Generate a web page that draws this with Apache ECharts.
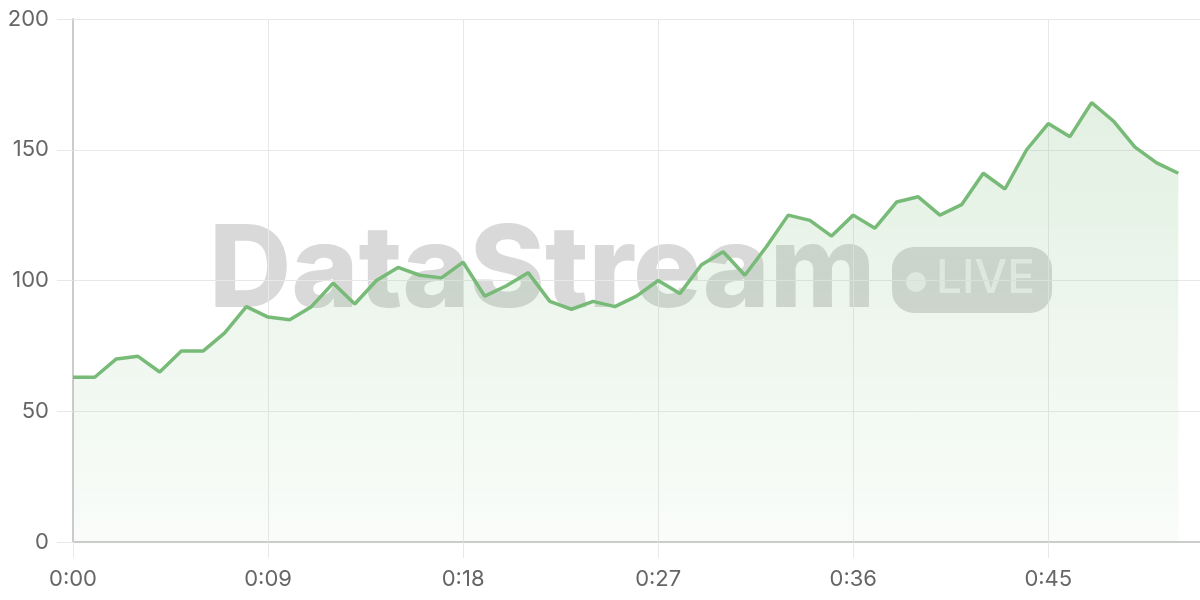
<!DOCTYPE html>
<html>
<head>
<meta charset="utf-8">
<script src="https://cdn.jsdelivr.net/npm/echarts@6/dist/echarts.min.js"></script>
<style>html,body{margin:0;padding:0;background:#fff;}#c{width:1200px;height:600px;}</style>
</head>
<body>
<div id="c"></div>
<script>
const categories = [];
for (let m = 0; m <= 52; m++) categories.push('0:' + (m < 10 ? '0' + m : '' + m));
const values = [63, 63, 70, 71, 65, 73, 73, 80, 90, 86, 85, 90, 99, 91, 100, 105, 102, 101, 107, 94,
  98, 103, 92, 89, 92, 90, 94, 100, 95, 106, 111, 102, 113, 125, 123, 117, 125, 120, 130, 132,
  125, 129, 141, 135, 150, 160, 155, 168, 161, 151, 145, 141];
const yTicks = [0, 50, 100, 150, 200];

const chart = echarts.init(document.getElementById('c'));
chart.setOption({
  animation: false,
  grid: { left: 73, right: 0, top: 19, bottom: 58 },
  graphic: [
    { type: 'text', z: 0, left: 209, top: 216,
      style: { text: 'DataStream', font: '800 114px Inter', fill: 'rgba(150,150,150,0.36)', letterSpacing: -3 } },
    { type: 'rect', z: 0, left: 892, top: 247,
      shape: { width: 160, height: 66, r: 22 }, style: { fill: 'rgba(150,150,150,0.36)' } },
    { type: 'circle', z: 0, left: 906, top: 272,
      shape: { r: 10 }, style: { fill: 'rgba(255,255,255,0.6)' } },
    { type: 'text', z: 0, left: 936, top: 256,
      style: { text: 'LIVE', font: '500 46px Inter', fill: 'rgba(255,255,255,0.6)' } }
  ],
  xAxis: {
    type: 'category', data: categories, boundaryGap: false,
    axisLine: { lineStyle: { color: '#cccccc', width: 2 } },
    axisTick: { show: true, interval: 8, length: 16, lineStyle: { color: '#e8e8e8' } },
    axisLabel: { interval: 8, margin: 26, color: '#666', fontSize: 22, fontFamily: 'Inter' },
    splitLine: { show: true, interval: 8, lineStyle: { color: '#e8e8e8', width: 1 } }
  },
  yAxis: {
    type: 'value', min: yTicks[0], max: yTicks[yTicks.length - 1], interval: 50,
    axisLine: { show: true, lineStyle: { color: '#cccccc', width: 2 } },
    axisTick: { show: true, length: 16, lineStyle: { color: '#e8e8e8' } },
    axisLabel: { margin: 24, color: '#666', fontSize: 22, fontFamily: 'Inter' },
    splitLine: { lineStyle: { color: '#e8e8e8', width: 1 } }
  },
  series: [{
    type: 'line', data: values, showSymbol: false, z: 2,
    lineStyle: { color: '#78ba77', width: 3.5 },
    areaStyle: {
      color: new echarts.graphic.LinearGradient(0, 0, 0, 1, [
        { offset: 0, color: 'rgba(120,186,119,0.30)' },
        { offset: 1, color: 'rgba(120,186,119,0.06)' }
      ])
    }
  }]
});
</script>
</body>
</html>
